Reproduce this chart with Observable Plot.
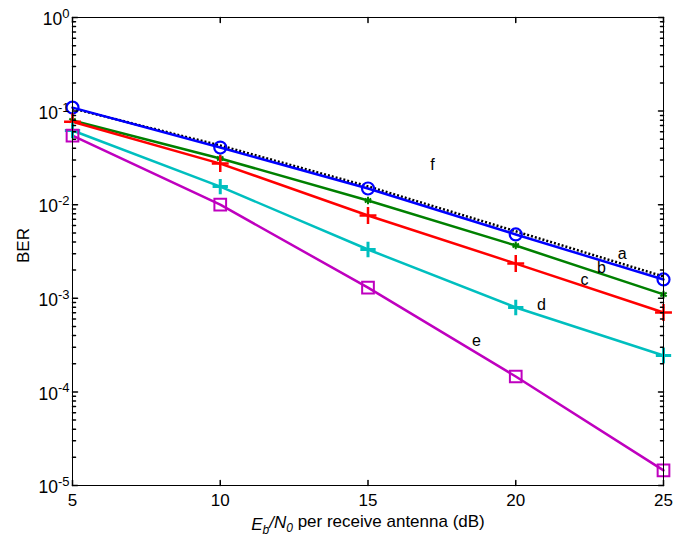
<!DOCTYPE html>
<html>
<head>
<meta charset="utf-8">
<script src="https://cdn.jsdelivr.net/npm/d3@7"></script>
<script src="https://cdn.jsdelivr.net/npm/@observablehq/plot@0.6"></script>
<style>
  body { margin: 0; background: #fff; }
  #chart svg { font-family: "Liberation Sans", Arial, Helvetica, sans-serif; }
</style>
</head>
<body>
<div id="chart"></div>
<script>
// ---- data ----
const snr = [5, 10, 15, 20, 25];
const berA = [0.109, 0.0408, 0.0149, 0.00481, 0.00159]; // blue, circles
const berB = [0.0794, 0.0312, 0.0111, 0.00366, 0.00110]; // green, asterisks
const berC = [0.0770, 0.0275, 0.00767, 0.00235, 0.000705]; // red, plus
const berD = [0.0620, 0.0156, 0.00332, 0.000798, 0.000245]; // cyan, plus
const berE = [0.0548, 0.0100, 0.00130, 0.000146, 0.0000145]; // magenta, squares
const berF = [0.107, 0.0429, 0.0157, 0.00520, 0.00171]; // black dotted
const curveLabels = ["a", "b", "c", "d", "e", "f"];
const labelX = [23.6, 22.9, 22.33, 20.87, 18.67, 17.18];
const labelY = [0.00301, 0.00209, 0.00159, 0.000859, 0.000354, 0.0269];
const xTicks = [5, 10, 15, 20, 25];
const yExponents = [0, -1, -2, -3, -4, -5];
const xLabel = "Eb/N0 per receive antenna (dB)";
const yLabel = "BER";

const series = [
  {key: "f", y: berF, color: "#000000", symbol: null, dash: "2,2"},
  {key: "a", y: berA, color: "#0000ff", symbol: "circle", r: 6, sw: 2.2},
  {key: "b", y: berB, color: "#008000", symbol: "asterisk", r: 3.5, sw: 2},
  {key: "c", y: berC, color: "#ff0000", symbol: "plus", r: 5.5, sw: 2.5},
  {key: "d", y: berD, color: "#00bfbf", symbol: "plus", r: 5, sw: 3},
  {key: "e", y: berE, color: "#bf00bf", symbol: "square", r: 6.6, sw: 2}
];

const majorY = yExponents.map(e => Math.pow(10, e));
const minorY = [];
for (let e = -5; e < 0; e++) for (let k = 2; k <= 9; k++) minorY.push(k * Math.pow(10, e));

const tickShape = { draw(ctx, l) { ctx.moveTo(0, 0); ctx.lineTo(0, -l); } };

const marks = [];
// lines
for (const s of series) {
  const rows = snr.map((x, i) => ({x, y: s.y[i]}));
  marks.push(Plot.line(rows, {x: "x", y: "y", stroke: s.color, strokeWidth: 2.5,
    strokeDasharray: s.dash || null, strokeLinecap: s.dash ? "butt" : "round"}));
}
for (const s of series) {
  if (!s.symbol) continue;
  const rows = snr.map((x, i) => ({x, y: s.y[i]}));
  marks.push(Plot.dot(rows, {x: "x", y: "y", stroke: s.color, fill: "none",
    symbol: s.symbol, r: s.r, strokeWidth: s.sw}));
}
// curve labels
marks.push(Plot.text(curveLabels.map((t, i) => ({t, x: labelX[i], y: labelY[i]})),
  {x: "x", y: "y", text: "t", fontSize: 16, fill: "black"}));
// frame
marks.push(Plot.frame({stroke: "black", strokeWidth: 1}));
// inward ticks: left / right (major + minor)
marks.push(Plot.vector(majorY, {x: () => 5, y: d => d, length: 5, rotate: 90, anchor: "start", shape: tickShape, stroke: "black"}));
marks.push(Plot.vector(majorY, {x: () => 25, y: d => d, length: 5, rotate: -90, anchor: "start", shape: tickShape, stroke: "black"}));
marks.push(Plot.vector(minorY, {x: () => 5, y: d => d, length: 3, rotate: 90, anchor: "start", shape: tickShape, stroke: "black"}));
marks.push(Plot.vector(minorY, {x: () => 25, y: d => d, length: 3, rotate: -90, anchor: "start", shape: tickShape, stroke: "black"}));
// inward ticks: bottom / top
marks.push(Plot.vector(xTicks, {x: d => d, y: () => 1e-5, length: 5, rotate: 0, anchor: "start", shape: tickShape, stroke: "black"}));
marks.push(Plot.vector(xTicks, {x: d => d, y: () => 1, length: 5, rotate: 180, anchor: "start", shape: tickShape, stroke: "black"}));
// tick labels
marks.push(Plot.text(xTicks, {x: d => d, y: () => 1e-5, text: d => String(d), dy: 15, fontSize: 17, fill: "black"}));
marks.push(Plot.text(yExponents, {x: () => 5, y: d => Math.pow(10, d), text: d => "10^" + d,
  textAnchor: "end", dx: -3, dy: 2, fontSize: 17.5, fill: "black"}));
// axis titles
marks.push(Plot.text([xLabel], {frameAnchor: "bottom", text: d => d, dy: 39, lineAnchor: "middle", textAnchor: "middle", fontSize: 17, fill: "black"}));
marks.push(Plot.text([yLabel], {frameAnchor: "left", text: d => d, dx: -49, dy: -6, rotate: -90, lineAnchor: "middle", textAnchor: "middle", fontSize: 17, fill: "black"}));

const plot = Plot.plot({
  width: 675,
  height: 538,
  marginLeft: 72,
  marginRight: 12,
  marginTop: 17,
  marginBottom: 53,
  x: {domain: [5, 25], axis: null},
  y: {type: "log", domain: [1e-5, 1], axis: null},
  marks
});

// superscripts / subscripts as real text
d3.select(plot).selectAll("text").each(function() {
  const t = this.textContent;
  const sel = d3.select(this);
  if (t.startsWith("10^")) {
    const e = t.slice(3);
    sel.text("10");
    sel.append("tspan").attr("dy", "-0.55em").attr("font-size", "13px").text(e);
  } else if (t === xLabel) {
    sel.text("");
    sel.append("tspan").attr("font-style", "italic").text("E");
    sel.append("tspan").attr("font-style", "italic").attr("font-size", "12px").attr("dy", "0.3em").text("b");
    sel.append("tspan").attr("font-style", "italic").attr("dy", "-0.3em").text("/N");
    sel.append("tspan").attr("font-style", "italic").attr("font-size", "12px").attr("dy", "0.3em").text("0");
    sel.append("tspan").attr("dy", "-0.3em").text(" per receive antenna (dB)");
  }
});

document.getElementById("chart").appendChild(plot);
</script>
</body>
</html>
